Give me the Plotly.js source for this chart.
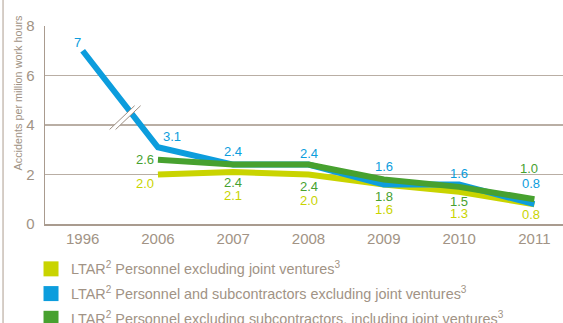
<!DOCTYPE html>
<html>
<head>
<meta charset="utf-8">
<script src="https://cdn.plot.ly/plotly-3.0.1.min.js"></script>
<style>
html,body{margin:0;padding:0;background:#fff;overflow:hidden;}
#chart{width:563px;height:335px;}
</style>
</head>
<body>
<div id="chart"></div>
<script>
// ---- data ----
const years = ["1996", "2006", "2007", "2008", "2009", "2010", "2011"];
const personnelExclJV = [null, 2.0, 2.1, 2.0, 1.6, 1.3, 0.8];
const personnelSubcontractorsExclJV = [7, 3.1, 2.4, 2.4, 1.6, 1.6, 0.8];
const personnelExclSubInclJV = [null, 2.6, 2.4, 2.4, 1.8, 1.5, 1.0];
const labelsYellow = [null, "2.0", "2.1", "2.0", "1.6", "1.3", "0.8"];
const labelsBlue = ["7", "3.1", "2.4", "2.4", "1.6", "1.6", "0.8"];
const labelsGreen = [null, "2.6", "2.4", "2.4", "1.8", "1.5", "1.0"];
const seriesNames = [
  "LTAR<sup>2</sup> Personnel excluding joint ventures<sup>3</sup>",
  "LTAR<sup>2</sup> Personnel and subcontractors excluding joint ventures<sup>3</sup>",
  "LTAR<sup>2</sup> Personnel excluding subcontractors, including joint ventures<sup>3</sup>"
];
const yTicks = [0, 2, 4, 6, 8];

// ---- style ----
const cYellow = "#c9d400", cBlue = "#0c9ddd", cGreen = "#47a12f";
const txt = "#a19385", grid = "#b9aea4";
const font = "Liberation Sans, Arial, sans-serif";
// label offsets in px [xshift, yshift]
const shiftYellow = [null, [-13, -9], [0, -23], [0, -26], [0, -25], [0, -22], [-3, -10]];
const shiftBlue = [[-5, 8], [14, 11], [0, 13], [0, 11], [0, 18], [0, 11], [-3, 21]];
const shiftGreen = [null, [-13, 0], [0, -18], [0, -22], [0, -17], [0, -15], [-5, 31]];

const lineTrace = (y, color, w) => ({
  x: years, y: y, type: "scatter", mode: "lines", showlegend: false,
  connectgaps: false, hoverinfo: "skip",
  line: {color: color, width: w, shape: "linear"}
});
const legendTrace = (name, color, g) => ({
  x: [null], y: [null], type: "scatter", mode: "markers", name: name,
  legendgroup: g, showlegend: true,
  marker: {symbol: "square", size: 15, color: color}
});

const data = [
  lineTrace(personnelExclJV, cYellow, 6),
  lineTrace(personnelSubcontractorsExclJV, cBlue, 6),
  lineTrace(personnelExclSubInclJV, cGreen, 6),
  legendTrace(seriesNames[0], cYellow, "a"),
  legendTrace(seriesNames[1], cBlue, "b"),
  legendTrace(seriesNames[2], cGreen, "c")
];

const annotations = [];
function addLabels(vals, labels, shifts, color) {
  vals.forEach((v, i) => {
    if (v === null) return;
    annotations.push({
      x: i, y: v, xref: "x", yref: "y", text: labels[i], showarrow: false,
      xanchor: "center", yanchor: "middle",
      xshift: shifts[i][0], yshift: shifts[i][1],
      font: {family: font, size: 13, color: color}
    });
  });
}
addLabels(personnelExclJV, labelsYellow, shiftYellow, cYellow);
addLabels(personnelSubcontractorsExclJV, labelsBlue, shiftBlue, cBlue);
addLabels(personnelExclSubInclJV, labelsGreen, shiftGreen, cGreen);
annotations.push({
  text: "Accidents per million work hours", xref: "paper", yref: "paper",
  x: -0.052, y: 0.66, xanchor: "center", yanchor: "middle", textangle: -90, showarrow: false,
  font: {family: font, size: 10.8, color: txt}
});

const shapes = [
  // break marker
  {type: "line", xref: "x", yref: "y", x0: 0.398, y0: 3.82, x1: 0.730, y1: 4.78, line: {color: "#ffffff", width: 4}, layer: "above"},
  {type: "line", xref: "x", yref: "y", x0: 0.358, y0: 3.82, x1: 0.690, y1: 4.78, line: {color: "#9c8e82", width: 1}, layer: "above"},
  {type: "line", xref: "x", yref: "y", x0: 0.438, y0: 3.82, x1: 0.770, y1: 4.78, line: {color: "#9c8e82", width: 1}, layer: "above"},
  // left page border
  {type: "line", xref: "paper", yref: "paper", x0: -0.0810, x1: -0.0810, y0: -0.6, y1: 1.2, line: {color: "#c9beb5", width: 1.5}}
];

const layout = {
  width: 563, height: 335,
  margin: {l: 45, r: 0, t: 26, b: 110, pad: 0},
  paper_bgcolor: "#ffffff", plot_bgcolor: "#ffffff",
  font: {family: font, color: txt},
  showlegend: true,
  xaxis: {
    type: "category", categoryorder: "array", categoryarray: years,
    range: [-0.5, 6.38], showgrid: false, zeroline: false,
    showline: true, linecolor: "#a99b8f", linewidth: 1.5,
    ticks: "", tickfont: {family: font, size: 15, color: txt}
  },
  yaxis: {
    range: [0, 8], tickvals: yTicks, ticktext: yTicks.map(String),
    showgrid: true, gridcolor: grid, gridwidth: 1.5, zeroline: false,
    showline: true, linecolor: "#a99b8f", linewidth: 1.5,
    ticks: "outside", ticklen: 6, tickcolor: "rgba(0,0,0,0)",
    tickfont: {family: font, size: 15, color: txt}
  },
  legend: {
    orientation: "v", x: -0.027, y: -0.145, xanchor: "left", yanchor: "top",
    font: {family: font, size: 14.4, color: txt},
    tracegroupgap: 3, bgcolor: "rgba(0,0,0,0)", itemclick: false
  },
  annotations: annotations,
  shapes: shapes
};

Plotly.newPlot("chart", data, layout, {staticPlot: true, displayModeBar: false});
</script>
</body>
</html>
